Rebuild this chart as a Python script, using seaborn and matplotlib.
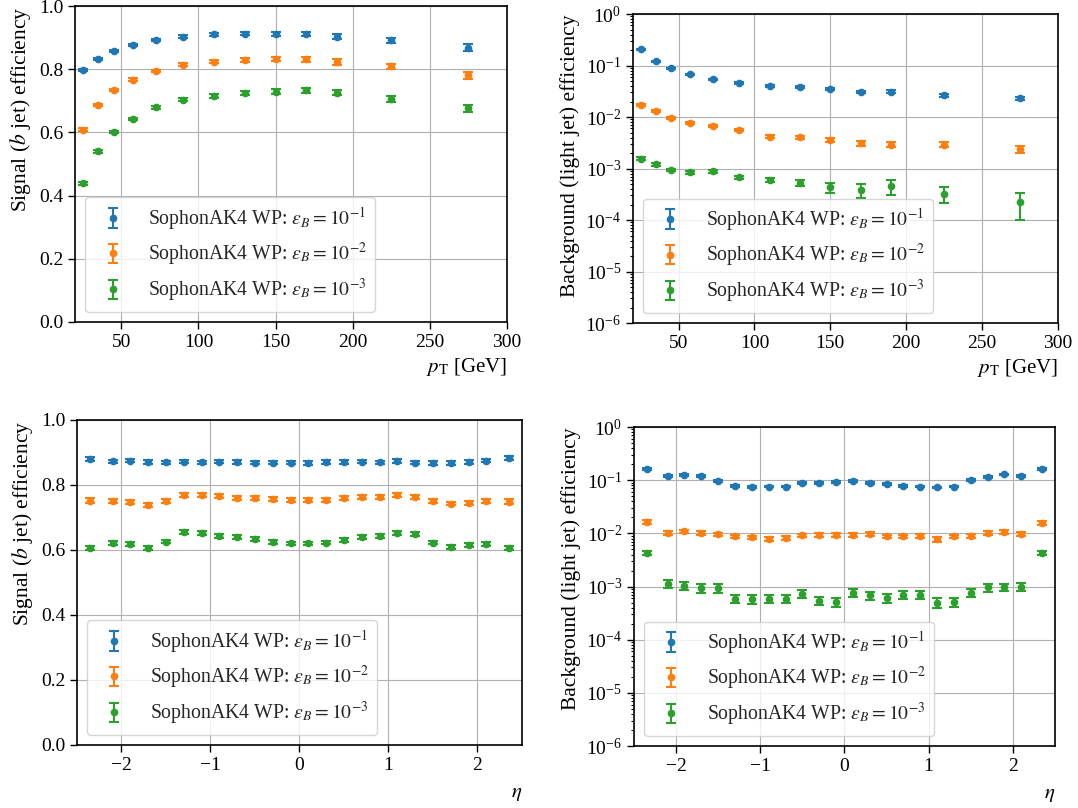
import numpy as np
import matplotlib
matplotlib.use('Agg')
import matplotlib.pyplot as plt
import seaborn as sns

# pT bins (bin centres, GeV)
pt = [25, 35, 45, 57.5, 72.5, 90, 110, 130, 150, 170, 190, 225, 275]
# eta bins (bin centres)
eta = [-2.35, -2.1, -1.9, -1.7, -1.5, -1.3, -1.1, -0.9, -0.7, -0.5, -0.3, -0.1,
       0.1, 0.3, 0.5, 0.7, 0.9, 1.1, 1.3, 1.5, 1.7, 1.9, 2.1, 2.35]

labels = [r'SophonAK4 WP: $\varepsilon_B = 10^{-1}$',
          r'SophonAK4 WP: $\varepsilon_B = 10^{-2}$',
          r'SophonAK4 WP: $\varepsilon_B = 10^{-3}$']

# signal efficiency vs pT
sig_pt_1 = [0.797, 0.833, 0.857, 0.876, 0.893, 0.903, 0.910, 0.912, 0.912, 0.911, 0.903, 0.891, 0.868]
sig_pt_2 = [0.609, 0.687, 0.734, 0.767, 0.795, 0.814, 0.824, 0.830, 0.833, 0.831, 0.823, 0.809, 0.781]
sig_pt_3 = [0.439, 0.540, 0.601, 0.643, 0.679, 0.704, 0.716, 0.724, 0.729, 0.734, 0.726, 0.706, 0.676]
sig_pt_err_1 = [0.003, 0.003, 0.003, 0.003, 0.004, 0.004, 0.005, 0.005, 0.006, 0.007, 0.008, 0.008, 0.011]
sig_pt_err_2 = [0.004, 0.004, 0.004, 0.004, 0.004, 0.005, 0.005, 0.006, 0.007, 0.008, 0.008, 0.009, 0.011]
sig_pt_err_3 = [0.004, 0.004, 0.004, 0.004, 0.005, 0.005, 0.006, 0.006, 0.007, 0.008, 0.008, 0.009, 0.011]

# background efficiency vs pT
bkg_pt_1 = [0.206, 0.121, 0.0883, 0.0676, 0.054, 0.0465, 0.040, 0.0378, 0.0346, 0.0303, 0.0312, 0.0264, 0.0231]
bkg_pt_2 = [0.0175, 0.0133, 0.00975, 0.00769, 0.00672, 0.00562, 0.00417, 0.00405, 0.0036, 0.0031, 0.00292, 0.00292, 0.00237]
bkg_pt_3 = [0.00156, 0.0012, 0.00094, 0.00084, 0.00089, 0.00068, 0.0006, 0.00052, 0.00043, 0.00039, 0.00046, 0.00032, 0.00022]
bkg_pt_err_1 = [0.008, 0.004, 0.003, 0.0025, 0.002, 0.002, 0.002, 0.0018, 0.0018, 0.0016, 0.0016, 0.0015, 0.0014]
bkg_pt_err_2 = [0.0008, 0.0006, 0.0005, 0.0004, 0.0004, 0.0003, 0.0003, 0.0003, 0.0003, 0.0003, 0.0003, 0.0003, 0.0004]
bkg_pt_err_3 = [0.00008, 0.00007, 0.00006, 0.00006, 0.00006, 0.00005, 0.00006, 0.00007, 0.0001, 0.00012, 0.00015, 0.00011, 0.00012]

# signal efficiency vs eta
sig_eta_1 = [0.881, 0.873, 0.875, 0.871, 0.870, 0.872, 0.870, 0.872, 0.871, 0.869, 0.869, 0.869,
             0.868, 0.871, 0.871, 0.872, 0.870, 0.874, 0.869, 0.868, 0.868, 0.871, 0.875, 0.883]
sig_eta_2 = [0.752, 0.752, 0.748, 0.738, 0.750, 0.769, 0.768, 0.765, 0.760, 0.760, 0.756, 0.754,
             0.754, 0.755, 0.759, 0.762, 0.763, 0.769, 0.763, 0.752, 0.743, 0.744, 0.750, 0.749]
sig_eta_3 = [0.605, 0.622, 0.619, 0.605, 0.626, 0.654, 0.652, 0.644, 0.639, 0.633, 0.625, 0.620,
             0.620, 0.623, 0.632, 0.641, 0.644, 0.652, 0.650, 0.623, 0.609, 0.614, 0.618, 0.605]
sig_eta_err_1 = [0.006, 0.005, 0.005, 0.005, 0.005, 0.005, 0.005, 0.005, 0.005, 0.005, 0.005, 0.005,
                 0.005, 0.005, 0.005, 0.005, 0.005, 0.005, 0.005, 0.005, 0.005, 0.005, 0.005, 0.006]
sig_eta_err_2 = [0.007, 0.006, 0.006, 0.006, 0.006, 0.006, 0.006, 0.006, 0.006, 0.006, 0.006, 0.006,
                 0.006, 0.006, 0.006, 0.006, 0.006, 0.006, 0.006, 0.006, 0.006, 0.006, 0.006, 0.007]
sig_eta_err_3 = [0.006, 0.006, 0.006, 0.006, 0.006, 0.006, 0.006, 0.006, 0.006, 0.006, 0.006, 0.006,
                 0.006, 0.006, 0.006, 0.006, 0.006, 0.006, 0.006, 0.006, 0.006, 0.006, 0.006, 0.006]

# background efficiency vs eta
bkg_eta_1 = [0.164, 0.119, 0.124, 0.121, 0.097, 0.078, 0.074, 0.076, 0.076, 0.088, 0.090, 0.094,
             0.096, 0.090, 0.084, 0.078, 0.076, 0.073, 0.076, 0.100, 0.117, 0.128, 0.119, 0.164]
bkg_eta_2 = [0.0164, 0.0101, 0.0109, 0.0101, 0.0096, 0.0088, 0.0084, 0.0079, 0.0083, 0.0092, 0.0093, 0.0093,
             0.0094, 0.0097, 0.0088, 0.0088, 0.0089, 0.0077, 0.0088, 0.0089, 0.0103, 0.0106, 0.0099, 0.0157]
bkg_eta_3 = [0.00432, 0.00112, 0.00104, 0.00094, 0.00094, 0.00059, 0.00058, 0.00059, 0.00059, 0.00073, 0.00054, 0.00052,
             0.00076, 0.00068, 0.00061, 0.00070, 0.00070, 0.0005, 0.00051, 0.00077, 0.00096, 0.00097, 0.00099, 0.00432]
bkg_eta_err_1 = [0.008, 0.005, 0.005, 0.005, 0.004, 0.003, 0.003, 0.003, 0.003, 0.004, 0.004, 0.004,
                 0.004, 0.004, 0.004, 0.003, 0.003, 0.003, 0.003, 0.004, 0.005, 0.005, 0.005, 0.008]
bkg_eta_err_2 = [0.0012, 0.0008, 0.0008, 0.0008, 0.0007, 0.0007, 0.0007, 0.0007, 0.0007, 0.0007, 0.0007, 0.0007,
                 0.0007, 0.0007, 0.0007, 0.0007, 0.0007, 0.0007, 0.0007, 0.0007, 0.0008, 0.0008, 0.0008, 0.0012]
bkg_eta_err_3 = [0.0004, 0.0002, 0.00018, 0.00017, 0.00017, 0.00011, 0.00011, 0.00011, 0.00011, 0.00012, 0.0001, 0.0001,
                 0.00012, 0.00012, 0.00011, 0.00012, 0.00012, 0.0001, 0.0001, 0.00013, 0.00016, 0.00016, 0.00016, 0.0004]

sns.set_theme(style='ticks')
plt.rcParams['font.family'] = ['Liberation Serif', 'DejaVu Serif']
plt.rcParams['mathtext.fontset'] = 'stix'
plt.rcParams['axes.edgecolor'] = 'black'
plt.rcParams['xtick.color'] = 'black'
plt.rcParams['ytick.color'] = 'black'
plt.rcParams['axes.labelcolor'] = 'black'

colors = sns.color_palette('tab10', 3)

fig = plt.figure(figsize=(10.78, 8.08), dpi=100)
ax_tl = fig.add_axes([0.0696, 0.6015, 0.4007, 0.391])
ax_tr = fig.add_axes([0.5872, 0.6002, 0.3942, 0.3824])
ax_bl = fig.add_axes([0.0714, 0.078, 0.4128, 0.4022])
ax_br = fig.add_axes([0.5881, 0.0767, 0.3905, 0.3948])

panels = [
    (ax_tl, pt, [sig_pt_1, sig_pt_2, sig_pt_3], [sig_pt_err_1, sig_pt_err_2, sig_pt_err_3], False),
    (ax_tr, pt, [bkg_pt_1, bkg_pt_2, bkg_pt_3], [bkg_pt_err_1, bkg_pt_err_2, bkg_pt_err_3], True),
    (ax_bl, eta, [sig_eta_1, sig_eta_2, sig_eta_3], [sig_eta_err_1, sig_eta_err_2, sig_eta_err_3], False),
    (ax_br, eta, [bkg_eta_1, bkg_eta_2, bkg_eta_3], [bkg_eta_err_1, bkg_eta_err_2, bkg_eta_err_3], True),
]

for ax, x, ys, errs, logy in panels:
    for y, e, c, lab in zip(ys, errs, colors, labels):
        ax.errorbar(x, y, yerr=e, fmt='o', color=c, ms=4.5, capsize=3.5, elinewidth=1.5,
                    capthick=1.5, label=lab)
    ax.grid(True, color='#b0b0b0', linewidth=0.8)
    ax.set_axisbelow(True)
    if logy:
        ax.set_yscale('log')
        ax.set_ylim(1e-6, 1)
        ax.set_ylabel('Background (light jet) efficiency', fontsize=15.5, loc='top')
    else:
        ax.set_ylim(0, 1)
        ax.set_ylabel(r'Signal ($b$ jet) efficiency', fontsize=15.5, loc='top')
    ax.tick_params(labelsize=14, direction='out', length=5, width=1)
    ax.tick_params(which='minor', length=2.5, width=0.8)
    ax.legend(loc='lower left', fontsize=14.2, framealpha=0.8, labelspacing=0.45)
    for s in ax.spines.values():
        s.set_linewidth(1.2)

for ax in (ax_tl, ax_tr):
    ax.set_xlim(20, 300)
    ax.set_xticks([50, 100, 150, 200, 250, 300])
    ax.set_xlabel(r'$p_\mathrm{T}$ [GeV]', fontsize=15, loc='right', labelpad=4)
for ax in (ax_bl, ax_br):
    ax.set_xlim(-2.5, 2.5)
    ax.set_xticks([-2, -1, 0, 1, 2])
    ax.set_xlabel(r'$\eta$', fontsize=15, loc='right', labelpad=7)

fig.savefig('out.png', dpi=100)
